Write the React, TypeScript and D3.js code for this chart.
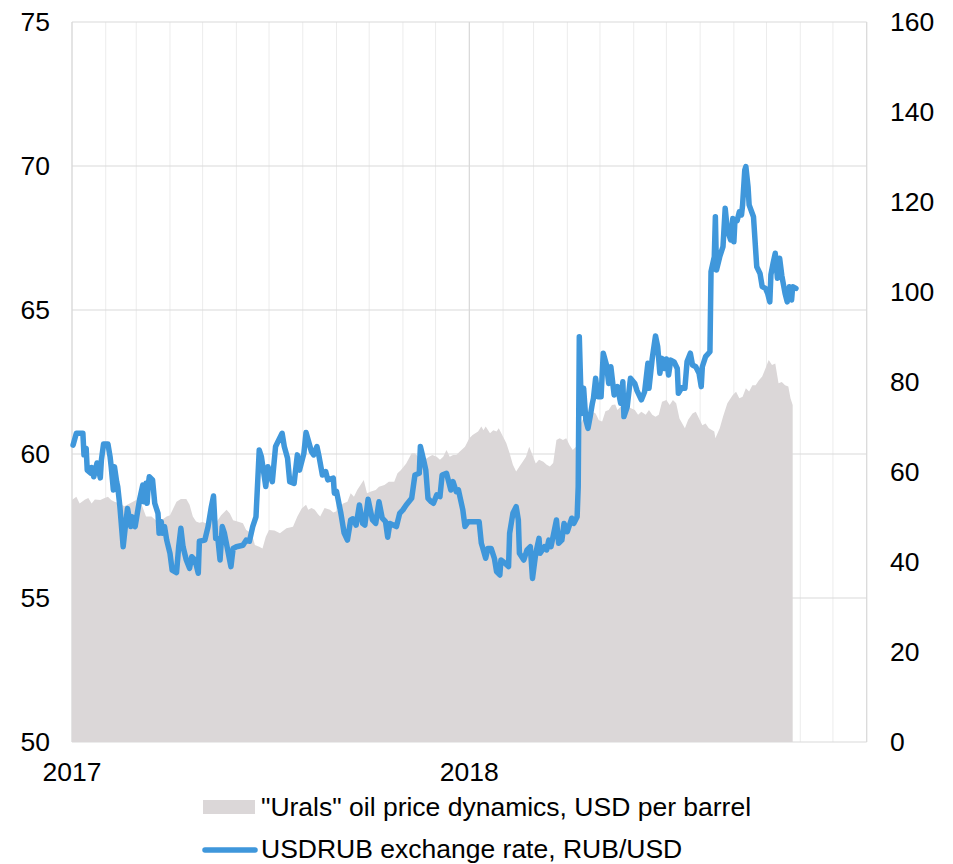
import React from "react";
import * as d3 from "d3";

// USDRUB exchange rate (left axis)
const usdrubDates = [
  "2017-01-02","2017-01-05","2017-01-11","2017-01-12","2017-01-14","2017-01-15","2017-01-18","2017-01-19","2017-01-21","2017-01-24",
  "2017-01-27","2017-01-28","2017-01-30","2017-02-03","2017-02-05","2017-02-06","2017-02-08","2017-02-09","2017-02-11","2017-02-12",
  "2017-02-14","2017-02-17","2017-02-19","2017-02-21","2017-02-24","2017-02-25","2017-02-28","2017-03-03","2017-03-04","2017-03-07",
  "2017-03-08","2017-03-10","2017-03-11","2017-03-12","2017-03-13","2017-03-16","2017-03-18","2017-03-21","2017-03-22","2017-03-24",
  "2017-03-25","2017-03-27","2017-03-29","2017-04-01","2017-04-03","2017-04-07","2017-04-09","2017-04-11","2017-04-13","2017-04-16",
  "2017-04-19","2017-04-21","2017-04-24","2017-04-27","2017-04-28","2017-05-03","2017-05-06","2017-05-09","2017-05-11","2017-05-13",
  "2017-05-15","2017-05-17","2017-05-19","2017-05-21","2017-05-27","2017-05-29","2017-06-01","2017-06-07","2017-06-10","2017-06-13",
  "2017-06-16","2017-06-19","2017-06-22","2017-06-24","2017-06-28","2017-06-30","2017-07-04","2017-07-07","2017-07-13","2017-07-15",
  "2017-07-18","2017-07-20","2017-07-24","2017-07-27","2017-07-29","2017-08-02","2017-08-04","2017-08-09","2017-08-11","2017-08-14",
  "2017-08-16","2017-08-19","2017-08-22","2017-08-24","2017-08-29","2017-08-30","2017-09-01","2017-09-05","2017-09-08","2017-09-11",
  "2017-09-14","2017-09-16","2017-09-19","2017-09-22","2017-09-25","2017-09-27","2017-09-30","2017-10-02","2017-10-04","2017-10-07",
  "2017-10-10","2017-10-13","2017-10-16","2017-10-18","2017-10-20","2017-10-26","2017-10-29","2017-11-01","2017-11-04","2017-11-09",
  "2017-11-12","2017-11-16","2017-11-17","2017-11-20","2017-11-22","2017-11-24","2017-11-27","2017-11-29","2017-12-02","2017-12-05",
  "2017-12-07","2017-12-11","2017-12-13","2017-12-15","2017-12-17","2017-12-20","2017-12-22","2017-12-26","2017-12-28","2017-12-31",
  "2018-01-10","2018-01-12","2018-01-13","2018-01-16","2018-01-18","2018-01-21","2018-01-24","2018-01-26","2018-01-29","2018-01-30",
  "2018-02-03","2018-02-06","2018-02-07","2018-02-10","2018-02-13","2018-02-15","2018-02-16","2018-02-20","2018-02-23","2018-02-26",
  "2018-02-28","2018-03-03","2018-03-06","2018-03-07","2018-03-11","2018-03-13","2018-03-15","2018-03-17","2018-03-22","2018-03-24",
  "2018-03-27","2018-03-29","2018-04-01","2018-04-05","2018-04-07","2018-04-10","2018-04-11","2018-04-12","2018-04-14","2018-04-16",
  "2018-04-18","2018-04-20","2018-04-22","2018-04-24","2018-04-25","2018-04-27","2018-04-29","2018-05-02","2018-05-04","2018-05-07",
  "2018-05-09","2018-05-11","2018-05-14","2018-05-17","2018-05-20","2018-05-22","2018-05-23","2018-05-26","2018-05-29","2018-06-02",
  "2018-06-04","2018-06-08","2018-06-11","2018-06-14","2018-06-15","2018-06-18","2018-06-21","2018-06-23","2018-06-25","2018-06-27",
  "2018-06-29","2018-07-01","2018-07-03","2018-07-05","2018-07-08","2018-07-11","2018-07-12","2018-07-15","2018-07-18","2018-07-20",
  "2018-07-23","2018-07-25","2018-07-28","2018-07-31","2018-08-02","2018-08-03","2018-08-06","2018-08-10","2018-08-11","2018-08-14",
  "2018-08-15","2018-08-16","2018-08-19","2018-08-22","2018-08-24","2018-08-26","2018-08-29","2018-08-31","2018-09-01","2018-09-02",
  "2018-09-04","2018-09-06","2018-09-08","2018-09-09","2018-09-11","2018-09-12","2018-09-14","2018-09-15","2018-09-19","2018-09-22",
  "2018-09-25","2018-09-27","2018-09-30","2018-10-02","2018-10-04","2018-10-05","2018-10-07","2018-10-09","2018-10-11","2018-10-13",
  "2018-10-15","2018-10-18","2018-10-20","2018-10-22","2018-10-24","2018-10-25","2018-10-28"
];
const usdrubValues = [
  60.31,60.72,60.72,59.97,60.2,59.44,59.34,59.53,59.21,59.69,
  59.17,59.79,60.35,60.35,59.9,59.56,58.75,59.56,59.04,58.87,
  58.17,56.78,57.48,58.11,57.48,57.82,57.48,58.17,58.4,58.92,
  58.34,58.98,58.29,58.92,59.21,59.1,58.29,57.94,57.25,57.65,
  57.25,57.48,57.01,56.55,55.97,55.88,56.78,57.42,56.78,56.32,
  56.03,56.43,56.32,55.86,56.97,57.01,57.48,58.17,58.54,57.07,
  57.07,56.32,57.48,57.25,56.09,56.72,56.78,56.83,57.01,56.97,
  57.48,57.82,60.14,59.9,58.87,59.56,59.04,60.26,60.72,60.26,
  59.85,59.04,58.98,59.97,59.44,60.02,60.75,60.08,59.97,60.26,
  59.9,59.27,59.39,59.1,59.16,58.64,58.7,57.94,57.25,57.01,
  57.71,57.75,57.53,58.23,57.59,57.53,58.43,58.06,57.71,57.59,
  58.34,57.77,57.65,57.11,57.59,57.48,57.94,58.06,58.23,58.46,
  59.27,59.33,60.26,59.79,59.44,58.46,58.34,58.29,58.58,58.52,
  59.27,59.33,59.04,58.75,59.04,58.69,58.75,58.06,57.48,57.65,
  57.65,56.9,56.78,56.38,56.72,56.72,56.38,55.92,55.8,56.32,
  56.2,56.09,57.25,57.94,58.17,57.71,56.55,56.32,56.67,56.78,
  55.68,56.55,57.07,56.55,56.78,56.67,57.01,56.78,57.71,56.9,
  57.01,57.59,57.3,57.77,57.59,57.82,58.87,64.07,61.41,62.28,
  61.18,60.89,61.3,61.76,61.93,62.63,61.99,61.99,63.5,63.09,
  62.45,63.03,62.05,62.34,61.76,62.51,61.3,61.64,62.63,62.45,
  62.2,61.88,62.16,63.15,62.28,63.32,64.1,63.73,62.8,63.32,
  62.97,63.3,62.74,63.26,63.2,62.97,62.11,62.3,62.28,63.21,
  63.5,63.09,63.03,62.8,62.34,63.03,63.38,63.55,66.33,66.85,
  68.24,66.39,66.85,67.2,68.53,67.78,67.43,68.18,67.37,68.13,
  68.1,68.41,68.3,68.65,69.86,69.98,69.28,68.65,68.24,66.5,
  66.27,65.81,65.75,65.58,65.28,66.22,66.62,66.97,66.1,66.8,
  66.2,65.58,65.28,65.81,65.35,65.81,65.75
];

// "Urals" oil price (right axis)
const uralsDates = [
  "2017-01-01","2017-01-05","2017-01-08","2017-01-13","2017-01-16","2017-01-19","2017-01-22","2017-01-27","2017-01-31","2017-02-03",
  "2017-02-06","2017-02-09","2017-02-14","2017-02-18","2017-02-23","2017-03-01","2017-03-05","2017-03-10","2017-03-15","2017-03-19",
  "2017-03-24","2017-03-29","2017-04-01","2017-04-04","2017-04-07","2017-04-11","2017-04-16","2017-04-19","2017-04-22","2017-04-25",
  "2017-04-28","2017-05-01","2017-05-04","2017-05-09","2017-05-13","2017-05-18","2017-05-23","2017-05-26","2017-05-29","2017-06-02",
  "2017-06-07","2017-06-10","2017-06-15","2017-06-18","2017-06-22","2017-06-25","2017-06-28","2017-07-01","2017-07-06","2017-07-11",
  "2017-07-17","2017-07-23","2017-07-27","2017-07-31","2017-08-04","2017-08-06","2017-08-09","2017-08-12","2017-08-15","2017-08-17",
  "2017-08-21","2017-08-26","2017-08-29","2017-09-01","2017-09-07","2017-09-11","2017-09-14","2017-09-17","2017-09-20","2017-09-23",
  "2017-09-26","2017-09-29","2017-10-02","2017-10-07","2017-10-10","2017-10-15","2017-10-19","2017-10-24","2017-10-27","2017-10-30",
  "2017-11-04","2017-11-09","2017-11-12","2017-11-15","2017-11-18","2017-11-21","2017-11-25","2017-11-28","2017-12-02","2017-12-05",
  "2017-12-08","2017-12-11","2017-12-14","2017-12-17","2017-12-20","2017-12-23","2017-12-28","2018-01-01","2018-01-04","2018-01-09",
  "2018-01-12","2018-01-14","2018-01-16","2018-01-20","2018-01-23","2018-01-26","2018-01-28","2018-02-01","2018-02-04","2018-02-07",
  "2018-02-10","2018-02-13","2018-02-16","2018-02-19","2018-02-22","2018-02-25","2018-02-28","2018-03-03","2018-03-06","2018-03-10",
  "2018-03-13","2018-03-16","2018-03-19","2018-03-22","2018-03-25","2018-03-28","2018-03-31","2018-04-03","2018-04-06","2018-04-09",
  "2018-04-12","2018-04-15","2018-04-18","2018-04-21","2018-04-24","2018-04-27","2018-04-30","2018-05-03","2018-05-06","2018-05-09",
  "2018-05-12","2018-05-15","2018-05-17","2018-05-20","2018-05-23","2018-05-26","2018-05-29","2018-06-02","2018-06-05","2018-06-08",
  "2018-06-12","2018-06-15","2018-06-18","2018-06-21","2018-06-24","2018-06-27","2018-07-01","2018-07-04","2018-07-07","2018-07-10",
  "2018-07-13","2018-07-18","2018-07-21","2018-07-25","2018-07-28","2018-07-31","2018-08-03","2018-08-06","2018-08-09","2018-08-14",
  "2018-08-15","2018-08-19","2018-08-22","2018-08-26","2018-08-31","2018-09-03","2018-09-06","2018-09-09","2018-09-12","2018-09-15",
  "2018-09-18","2018-09-21","2018-09-24","2018-09-27","2018-09-30","2018-10-03","2018-10-06","2018-10-09","2018-10-12","2018-10-15",
  "2018-10-18","2018-10-21","2018-10-23","2018-10-25"
];
const uralsValues = [
  53.8,54.5,53.0,53.9,54.2,53.0,53.9,53.8,54.2,54.5,
  53.8,53.4,53.0,52.4,53.0,53.8,53.4,50.1,50.1,49.3,
  49.3,50.1,50.4,51.9,53.4,54.0,54.0,52.7,50.1,49.0,
  48.7,48.9,48.6,49.3,48.6,50.4,51.6,50.8,49.3,49.0,
  48.6,47.1,46.4,43.8,43.4,43.0,45.6,47.1,47.0,46.4,
  47.5,47.85,50.1,51.9,52.7,51.6,52.0,51.6,50.6,50.1,
  52.0,51.6,51.0,51.3,53.0,53.4,55.3,54.5,56.0,57.1,
  58.2,55.3,55.6,56.0,56.7,57.1,57.85,57.85,59.7,60.4,
  61.9,64.15,64.15,63.4,63.4,62.7,63.4,63.8,63.4,62.7,
  63.4,64.9,63.4,63.8,63.8,64.5,65.6,67.5,68.2,69.0,
  70.1,69.3,70.1,68.6,69.3,69.0,69.7,67.85,66.4,64.15,
  61.6,60.1,61.2,62.3,63.4,65.6,63.8,61.9,62.7,62.3,
  61.6,61.2,62.0,67.1,67.5,67.1,67.5,66.0,64.9,65.6,
  70.1,71.6,72.3,72.7,73.4,73.0,71.5,71.2,73.5,73.8,
  74.9,75.0,73.8,74.5,73.8,74.5,74.2,73.8,72.7,73.4,
  72.7,73.8,72.7,72.3,72.7,75.6,76.0,74.9,76.0,75.3,
  71.9,69.7,71.6,73.0,73.4,71.9,70.4,70.8,69.7,69.0,
  67.5,69.7,72.3,75.3,77.1,77.85,76.4,76.7,78.6,77.9,
  79.3,79.3,80.4,81.2,83.0,84.9,83.8,84.1,79.7,80.0,
  79.3,79.0,76.4,74.9
];

const leftTicks = [50, 55, 60, 65, 70, 75];
const rightTicks = [0, 20, 40, 60, 80, 100, 120, 140, 160];
const yearTicks = ["2017-01-01", "2018-01-01"];
const yearLabels = ["2017", "2018"];
const legendLabels = ['"Urals" oil price dynamics, USD per barrel', "USDRUB exchange rate, RUB/USD"];

const FONT = "'Liberation Sans', Arial, sans-serif";
const FS = 26.5;
const AREA_COLOR = "#dbd7d8";
const LINE_COLOR = "#3f97db";

export default function App() {
  const W = 953, H = 864;
  const left = 72, right = 866.7, top = 22, bottom = 742;
  const parse = d3.utcParse("%Y-%m-%d");
  const start = parse("2017-01-01")!;
  const end = parse("2019-01-01")!;
  const x = d3.scaleUtc().domain([start, end]).range([left, right]);
  const yL = d3.scaleLinear().domain([50, 75]).range([bottom, top]);
  const yR = d3.scaleLinear().domain([0, 160]).range([bottom, top]);

  const usdrub = usdrubDates.map((d, i) => ({ date: parse(d)!, v: usdrubValues[i] }));
  const urals = uralsDates.map((d, i) => ({ date: parse(d)!, v: uralsValues[i] }));

  const areaGen = d3.area<{ date: Date; v: number }>()
    .x(d => x(d.date))
    .y0(bottom)
    .y1(d => yR(d.v));
  const lineGen = d3.line<{ date: Date; v: number }>()
    .x(d => x(d.date))
    .y(d => yL(d.v));

  const months = d3.utcMonth.range(start, d3.utcDay.offset(end, 1));
  const years = d3.utcYear.range(start, d3.utcDay.offset(end, 1));

  return (
    <div style={{ position: "absolute", left: 0, top: 0 }}>
      <svg width={W} height={H} style={{ display: "block", background: "#fff" }}>
        {months.map((m, i) => (
          <line key={"m" + i} x1={x(m)} x2={x(m)} y1={top} y2={bottom} stroke="#ececec" strokeWidth={1} />
        ))}
        {leftTicks.map((t, i) => (
          <line key={"h" + i} x1={left} x2={right} y1={yL(t)} y2={yL(t)} stroke="#d9d9d9" strokeWidth={1.2} />
        ))}
        {years.map((yv, i) => (
          <line key={"y" + i} x1={x(yv)} x2={x(yv)} y1={top} y2={bottom} stroke="#d9d9d9" strokeWidth={1.2} />
        ))}
        <path d={areaGen(urals) || ""} fill={AREA_COLOR} />
        <path d={lineGen(usdrub) || ""} fill="none" stroke={LINE_COLOR} strokeWidth={5.5} strokeLinejoin="round" strokeLinecap="round" />

        {leftTicks.map((t, i) => (
          <text key={"lt" + i} x={50} y={yL(t)} textAnchor="end" dominantBaseline="central" fontFamily={FONT} fontSize={FS} fill="#000">{t}</text>
        ))}
        {rightTicks.map((t, i) => (
          <text key={"rt" + i} x={890} y={yR(t)} textAnchor="start" dominantBaseline="central" fontFamily={FONT} fontSize={FS} fill="#000">{t}</text>
        ))}
        {yearTicks.map((d, i) => (
          <text key={"xt" + i} x={x(parse(d)!)} y={781} textAnchor="middle" fontFamily={FONT} fontSize={FS} fill="#000">{yearLabels[i]}</text>
        ))}

        <rect x={203} y={800} width={52} height={14} fill={AREA_COLOR} />
        <text x={261} y={816} fontFamily={FONT} fontSize={FS} fill="#000">{legendLabels[0]}</text>
        <line x1={205} x2={255} y1={850} y2={850} stroke={LINE_COLOR} strokeWidth={5.5} strokeLinecap="round" />
        <text x={261} y={858} fontFamily={FONT} fontSize={FS} fill="#000">{legendLabels[1]}</text>
      </svg>
    </div>
  );
}
